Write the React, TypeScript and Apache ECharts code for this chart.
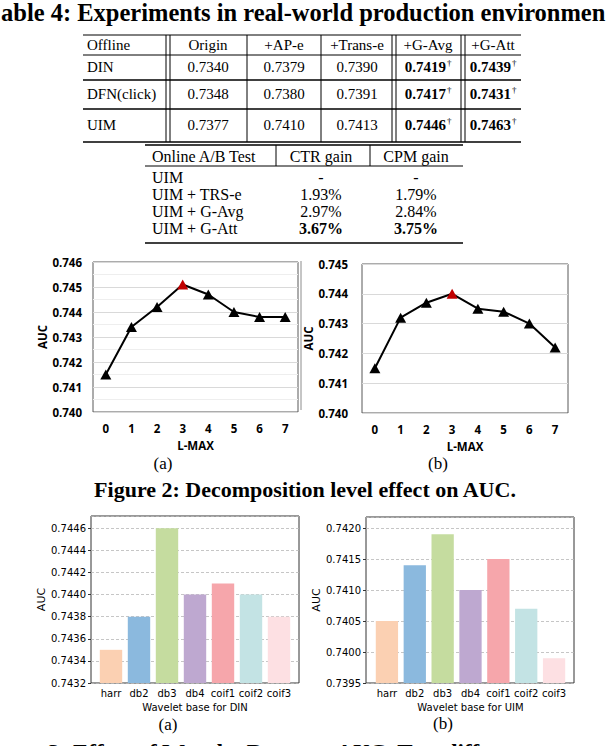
import React, { useEffect, useRef } from "react";
import * as echarts from "echarts";

const titleText = "able 4: Experiments in real-world production environmen";
const offlineHeader = ["Offline", "Origin", "+AP-e", "+Trans-e", "+G-Avg", "+G-Att"];
const offlineRows = [
  ["DIN", "0.7340", "0.7379", "0.7390", "0.7419", "0.7439"],
  ["DFN(click)", "0.7348", "0.7380", "0.7391", "0.7417", "0.7431"],
  ["UIM", "0.7377", "0.7410", "0.7413", "0.7446", "0.7463"],
];
const offlineBoldCols = [4, 5];
const onlineHeader = ["Online A/B Test", "CTR gain", "CPM gain"];
const onlineRows = [
  ["UIM", "-", "-"],
  ["UIM + TRS-e", "1.93%", "1.79%"],
  ["UIM + G-Avg", "2.97%", "2.84%"],
  ["UIM + G-Att", "3.67%", "3.75%"],
];
const onlineBoldRow = 3;

const lmaxLevels = ["0", "1", "2", "3", "4", "5", "6", "7"];
const aucLevelA = [0.7415, 0.7434, 0.7442, 0.7451, 0.7447, 0.744, 0.7438, 0.7438];
const aucLevelB = [0.7415, 0.7432, 0.7437, 0.744, 0.7435, 0.7434, 0.743, 0.7422];
const bestLevelA = 3;
const bestLevelB = 3;

const waveletBases = ["harr", "db2", "db3", "db4", "coif1", "coif2", "coif3"];
const aucWaveletDIN = [0.7435, 0.7438, 0.7446, 0.744, 0.7441, 0.744, 0.7438];
const aucWaveletUIM = [0.7405, 0.7414, 0.7419, 0.741, 0.7415, 0.7407, 0.7399];
const waveletColors = ["#fbd0b2", "#8bb9de", "#c5dc9f", "#bea8d0", "#f6a6ab", "#c3e3e4", "#fde0e3"];

const fig2Caption = "Figure 2: Decomposition level effect on AUC.";
const fig3Caption = "3: Effect of Wavelet Bases on AUC. Two diff";
const subCaptions = ["(a)", "(b)"];

const SERIF = "'Liberation Serif', 'Times New Roman', serif";
const SANS = "'Open Sans', 'Noto Sans', sans-serif";
const MPL = "'DejaVu Sans', sans-serif";

function txt(text: string, x: number, y: number, o: any = {}) {
  return {
    type: "text",
    x,
    y,
    z: 10,
    style: {
      text,
      fill: "#000",
      fontFamily: o.family || SERIF,
      fontSize: o.size || 15,
      fontWeight: o.weight || "normal",
      align: o.align || "left",
      verticalAlign: "middle",
      rich: o.rich,
    },
  };
}
function hline(x1: number, x2: number, y: number, w = 1) {
  return { type: "line", z: 10, shape: { x1, y1: y, x2, y2: y }, style: { stroke: "#000", lineWidth: w } };
}
function vline(x: number, y1: number, y2: number, w = 1, c = "#000") {
  return { type: "line", z: 10, shape: { x1: x, y1, x2: x, y2 }, style: { stroke: c, lineWidth: w } };
}

function buildGraphics() {
  const g: any[] = [];
  g.push(txt(titleText, 1, 12, { size: 24.5, weight: "bold" }));

  // table 1
  const L = 83, R = 521;
  const rowY = [45, 67, 94, 125];
  const centers = [0, 208, 284, 357, 428, 493];
  const rules: [number, number][] = [[35, 1], [55, 1], [80, 1.5], [109, 1.5], [142, 1.5]];
  rules.forEach(([y, w]) => g.push(hline(L, R, y, w)));
  const vb = [166, 170, 247, 321, 392, 396, 461, 465];
  vb.forEach((x) => g.push(vline(x, 35, 142)));
  const rows = [offlineHeader, ...offlineRows];
  rows.forEach((r, ri) => {
    r.forEach((cell, ci) => {
      if (ci === 0) {
        g.push(txt(cell, 87, rowY[ri]));
      } else if (ri > 0 && offlineBoldCols.includes(ci)) {
        g.push(
          txt(`{b|${cell}}{s|†}`, centers[ci], rowY[ri], {
            align: "center",
            rich: {
              b: { fontFamily: SERIF, fontSize: 15, fontWeight: "bold", fill: "#000" },
              s: { fontFamily: SERIF, fontSize: 9, fill: "#000", padding: [0, 0, 8, 1] },
            },
          })
        );
      } else {
        g.push(txt(cell, centers[ci], rowY[ri], { align: "center" }));
      }
    });
  });

  // table 2
  const L2 = 145, R2 = 463;
  g.push(hline(L2, R2, 145, 1.5));
  g.push(hline(L2, R2, 166, 1));
  g.push(hline(L2, R2, 243, 1.5));
  g.push(vline(276, 145, 166));
  g.push(vline(370, 145, 166));
  const c2 = [0, 321, 416];
  const rowY2 = [156, 177, 194, 211, 228];
  [onlineHeader, ...onlineRows].forEach((r, ri) => {
    r.forEach((cell, ci) => {
      const bold = ri - 1 === onlineBoldRow && ci > 0;
      if (ci === 0) g.push(txt(cell, 152, rowY2[ri], { size: 16 }));
      else g.push(txt(cell, c2[ci], rowY2[ri], { size: 16, align: "center", weight: bold ? "bold" : "normal" }));
    });
  });

  // separator line left of chart (b)
  g.push(vline(301, 261, 410, 1, "#8c8c8c"));

  g.push(txt(subCaptions[0], 163, 463, { size: 17, align: "center" }));
  g.push(txt(subCaptions[1], 438, 463, { size: 17, align: "center" }));
  g.push(txt(fig2Caption, 305, 489, { size: 22, weight: "bold", align: "center" }));
  g.push(txt(subCaptions[0], 168, 724, { size: 17, align: "center" }));
  g.push(txt(subCaptions[1], 443, 723, { size: 17, align: "center" }));
  g.push(txt(fig3Caption, 48, 752, { size: 23, weight: "bold" }));
  return g;
}

function lineYAxis(grid: number, min: number, max: number, gap: number, minor: boolean) {
  return {
    type: "value",
    gridIndex: grid,
    min,
    max,
    interval: 0.001,
    name: "AUC",
    nameLocation: "middle",
    nameGap: gap,
    nameTextStyle: { fontFamily: SANS, fontWeight: "bold", fontSize: 11.5, color: "#000" },
    axisLine: { show: false },
    axisTick: { show: false },
    axisLabel: {
      fontFamily: SANS,
      fontWeight: "bold",
      fontSize: 11.5,
      color: "#000",
      margin: grid === 0 ? 11 : 14,
      formatter: (v: number) => v.toFixed(3),
    },
    splitLine: { show: true, lineStyle: { color: "#d9d9d9", width: 1 } },
    minorTick: { show: false, splitNumber: 2 },
    minorSplitLine: { show: minor, lineStyle: { color: "#eeeeee", width: 1 } },
  };
}
function lineXAxis(grid: number) {
  return {
    type: "category",
    gridIndex: grid,
    data: lmaxLevels,
    boundaryGap: true,
    name: "L-MAX",
    nameLocation: "middle",
    nameGap: 27,
    nameTextStyle: { fontFamily: SANS, fontWeight: "bold", fontSize: 11.5, color: "#000" },
    axisLine: { show: false },
    axisTick: { show: false },
    axisLabel: { fontFamily: SANS, fontWeight: "bold", fontSize: 11.5, color: "#000", margin: 10 },
  };
}
function lineSeries(idx: number, values: number[], best: number) {
  return {
    type: "line",
    xAxisIndex: idx,
    yAxisIndex: idx,
    symbol: "triangle",
    symbolSize: [11, 10],
    lineStyle: { color: "#000", width: 2 },
    itemStyle: { color: "#000" },
    data: values.map((v, i) => (i === best ? { value: v, itemStyle: { color: "#c00000" } } : v)),
  };
}
function barFrameY(grid: number, min: number, max: number, interval: number) {
  return {
    type: "value",
    gridIndex: grid,
    min,
    max,
    interval,
    name: "AUC",
    nameLocation: "middle",
    nameGap: 44,
    nameTextStyle: { fontFamily: MPL, fontSize: 11, color: "#000" },
    axisLine: { show: false },
    axisTick: { show: true, length: 3, lineStyle: { color: "#333" } },
    axisLabel: {
      fontFamily: MPL,
      fontSize: 10,
      color: "#000",
      margin: 5,
      showMaxLabel: false,
      formatter: (v: number) => v.toFixed(4),
    },
    splitLine: { show: true, lineStyle: { color: "#b8b8b8", width: 0.8, type: [3, 2] } },
  };
}
function hiddenY(grid: number, min: number, max: number) {
  return { type: "value", gridIndex: grid, min, max, show: false, splitLine: { show: false } };
}
function hiddenX(grid: number) {
  return { type: "value", gridIndex: grid, min: 0, max: 1, show: false, splitLine: { show: false } };
}
function barX(grid: number, name: string) {
  return {
    type: "category",
    gridIndex: grid,
    data: waveletBases,
    name,
    nameLocation: "middle",
    nameGap: 19,
    nameTextStyle: { fontFamily: MPL, fontSize: 10, color: "#000" },
    axisLine: { show: false },
    axisTick: { show: false },
    axisLabel: { fontFamily: MPL, fontSize: 10, color: "#000", margin: 5, interval: 0 },
  };
}
function barSeries(idx: number, values: number[]) {
  return {
    type: "bar",
    xAxisIndex: idx,
    yAxisIndex: idx,
    barCategoryGap: "20%",
    data: values.map((v, i) => ({ value: v, itemStyle: { color: waveletColors[i] } })),
  };
}

export default function App() {
  const ref = useRef<HTMLDivElement>(null);
  useEffect(() => {
    if (!ref.current) return;
    const chart = echarts.init(ref.current, null, { renderer: "svg" });
    const option: any = {
      animation: false,
      backgroundColor: "#fff",
      grid: [
        { left: 93, top: 262, width: 205, height: 150, show: true, borderColor: "#595959", borderWidth: 1, backgroundColor: "transparent" },
        { left: 362, top: 264, width: 206, height: 149, show: true, borderColor: "#595959", borderWidth: 1, backgroundColor: "transparent" },
        { left: 91, top: 516, width: 208, height: 167, show: true, borderColor: "#333", borderWidth: 1, backgroundColor: "transparent" },
        { left: 97, top: 516, width: 196, height: 167 },
        { left: 366, top: 517, width: 208, height: 166, show: true, borderColor: "#333", borderWidth: 1, backgroundColor: "transparent" },
        { left: 373, top: 517, width: 195, height: 166 },
      ],
      xAxis: [lineXAxis(0), lineXAxis(1), hiddenX(2), barX(3, "Wavelet base for DIN"), hiddenX(4), barX(5, "Wavelet base for UIM")],
      yAxis: [
        lineYAxis(0, 0.74, 0.746, 44, true),
        lineYAxis(1, 0.74, 0.745, 45, false),
        barFrameY(2, 0.7432, 0.74471, 0.0002),
        hiddenY(3, 0.7432, 0.74471),
        barFrameY(4, 0.7395, 0.74218, 0.0005),
        hiddenY(5, 0.7395, 0.74218),
      ],
      series: [
        lineSeries(0, aucLevelA, bestLevelA),
        lineSeries(1, aucLevelB, bestLevelB),
        barSeries(3, aucWaveletDIN),
        barSeries(5, aucWaveletUIM),
      ],
      graphic: buildGraphics(),
    };
    chart.setOption(option);
    return () => chart.dispose();
  }, []);
  return <div ref={ref} style={{ position: "absolute", left: 0, top: 0, width: 610, height: 746 }} />;
}
